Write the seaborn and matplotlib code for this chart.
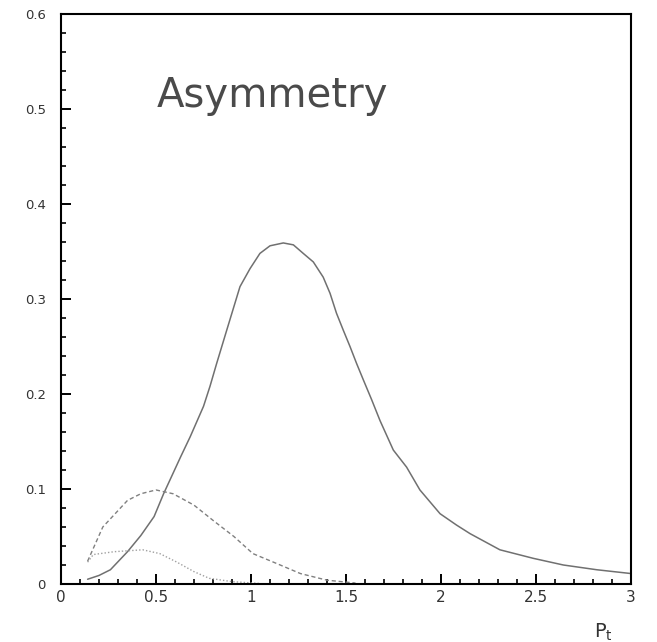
import matplotlib
matplotlib.use("Agg")
import matplotlib.pyplot as plt
import seaborn as sns
import pandas as pd
from matplotlib.ticker import MultipleLocator

# --- data ---
solid_x = [0.14, 0.20, 0.26, 0.35, 0.42, 0.49, 0.54, 0.63, 0.68, 0.75, 0.784, 0.819, 0.872,
           0.942, 0.995, 1.047, 1.10, 1.17, 1.223, 1.275, 1.328, 1.38, 1.416, 1.45, 1.486,
           1.521, 1.556, 1.591, 1.635, 1.679, 1.749, 1.819, 1.889, 1.995, 2.082, 2.153,
           2.31, 2.486, 2.644, 2.82, 3.0]
solid_y = [0.005, 0.009, 0.015, 0.034, 0.051, 0.071, 0.095, 0.134, 0.155, 0.187, 0.208, 0.232,
           0.267, 0.313, 0.332, 0.348, 0.356, 0.359, 0.357, 0.348, 0.339, 0.323, 0.306,
           0.285, 0.267, 0.250, 0.232, 0.215, 0.194, 0.172, 0.141, 0.123, 0.099, 0.074,
           0.062, 0.053, 0.036, 0.027, 0.020, 0.015, 0.011]

dash_x = [0.14, 0.22, 0.35, 0.42, 0.50, 0.59, 0.70, 0.80, 0.91, 1.01, 1.13, 1.26, 1.40, 1.55]
dash_y = [0.024, 0.060, 0.088, 0.095, 0.099, 0.095, 0.083, 0.067, 0.050, 0.032, 0.022, 0.011,
          0.004, 0.001]

dot_x = [0.14, 0.17, 0.28, 0.43, 0.52, 0.61, 0.70, 0.78, 0.90, 1.05]
dot_y = [0.023, 0.031, 0.034, 0.036, 0.032, 0.023, 0.013, 0.006, 0.0025, 0.0005]

x_ticks = [0, 0.5, 1, 1.5, 2, 2.5, 3]
x_tick_labels = ["0", "0.5", "1", "1.5", "2", "2.5", "3"]
y_ticks = [0, 0.1, 0.2, 0.3, 0.4, 0.5, 0.6]
y_tick_labels = ["0", "0.1", "0.2", "0.3", "0.4", "0.5", "0.6"]

title_text = "Asymmetry"
x_label = r"$\mathrm{P_t}$"

sns.set_theme(style="white")
plt.rcParams["font.family"] = ["DejaVu Sans"]
plt.rcParams["xtick.bottom"] = True
plt.rcParams["ytick.left"] = True

fig = plt.figure(figsize=(6.57, 6.42), dpi=100)
ax = fig.add_axes([61 / 657, 58 / 642, 570 / 657, 570 / 642])

df_s = pd.DataFrame({"x": solid_x, "y": solid_y})
df_d = pd.DataFrame({"x": dash_x, "y": dash_y})
df_o = pd.DataFrame({"x": dot_x, "y": dot_y})

sns.lineplot(data=df_s, x="x", y="y", ax=ax, color="#707070", linewidth=1.1, sort=True)
sns.lineplot(data=df_d, x="x", y="y", ax=ax, color="#808080", linewidth=1.0,
             linestyle=(0, (3, 2)), sort=True)
sns.lineplot(data=df_o, x="x", y="y", ax=ax, color="#a0a0a0", linewidth=1.0,
             linestyle=(0, (1, 1.5)), sort=True)

ax.set_xlim(0, 3)
ax.set_ylim(0, 0.6)
ax.set_xticks(x_ticks)
ax.set_xticklabels(x_tick_labels)
ax.set_yticks(y_ticks)
ax.set_yticklabels(y_tick_labels)
ax.xaxis.set_minor_locator(MultipleLocator(0.1))
ax.yaxis.set_minor_locator(MultipleLocator(0.02))

ax.tick_params(axis="both", which="both", direction="in", bottom=True, left=True,
               top=False, right=False, colors="black", labelcolor="#333333")
ax.tick_params(axis="both", which="major", length=7, width=1.4)
ax.tick_params(axis="both", which="minor", length=3.8, width=1.2)
ax.tick_params(axis="x", which="major", labelsize=11, pad=4)
ax.tick_params(axis="y", which="major", labelsize=9.5, pad=11)

for sp in ax.spines.values():
    sp.set_visible(True)
    sp.set_color("black")
    sp.set_linewidth(1.5)

ax.set_xlabel("")
ax.set_ylabel("")
ax.grid(False)

ax.text(0.168, 0.837, title_text, transform=ax.transAxes, fontsize=29,
        color="#4a4a4a", ha="left", va="baseline")
ax.text(0.935, -0.095, x_label, transform=ax.transAxes, fontsize=14,
        color="#333333", ha="left", va="baseline")

fig.savefig("out.png", dpi=100, facecolor="white")
